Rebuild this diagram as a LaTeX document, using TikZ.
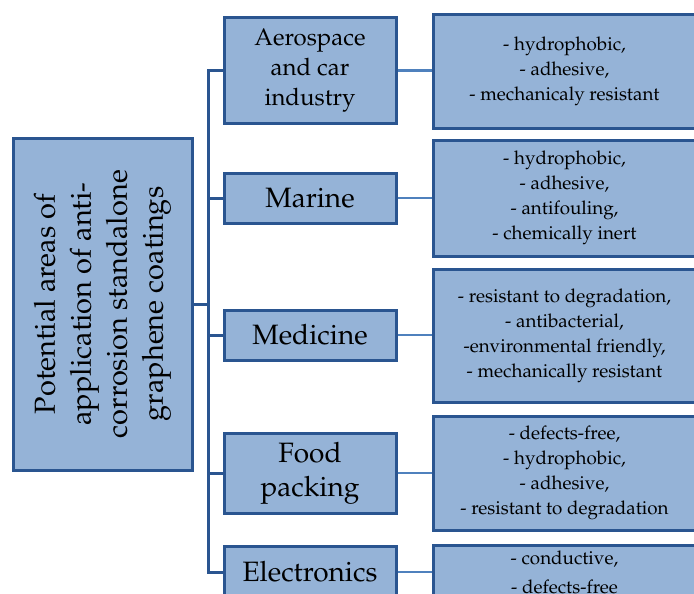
\documentclass[tikz,border=0pt]{standalone}
\usepackage[T1]{fontenc}
\usepackage{mathpazo}
\usetikzlibrary{positioning}

\definecolor{boxfill}{HTML}{95B3D7}
\definecolor{boxline}{HTML}{2A5590}
\definecolor{linkline}{HTML}{4F81BD}

\begin{document}
\begin{tikzpicture}
[x=1pt,y=-1pt,
box/.style = {draw=boxline, fill=boxfill, line width=3pt, align=center, inner sep=2pt},
area/.style = {box, minimum width=172pt, font=\fontsize{28}{34}\selectfont},
prop/.style = {box, minimum width=262pt, anchor=west, font=\fontsize{18.8}{25}\selectfont},
trunk/.style = {draw=boxline, line width=3pt},
link/.style = {draw=linkline, line width=2.4pt},]
\useasboundingbox (0,0) rectangle (694,594);
\clip (0,0) rectangle (694,594);
\node (main) at (102.5,304)[box,rotate=90,minimum width=332pt,minimum height=179pt,font=\fontsize{29}{36}\selectfont] {Potential areas of\\ application of anti-\\ corrosion standalone\\ graphene coatings};
\node (aero) at (310,70.5)[area,minimum height=105pt,font=\fontsize{24}{30}\selectfont] {Aerospace\\ and car\\ industry};
\node (marine) at (310,198)[area,minimum height=50pt] {Marine};
\node (med) at (310,335)[area,minimum height=50pt] {Medicine};
\node (food) at (310,473)[area,minimum height=80pt] {Food\\ packing};
\node (elec) at (310,572)[area,minimum height=52pt] {Electronics};
\node (aeroP) at (432,71.5)[prop,minimum height=113pt] {- hydrophobic,\\ - adhesive,\\ - mechanicaly resistant};
\node (marineP) at (432,198)[prop,minimum height=116pt] {- hydrophobic,\\ - adhesive,\\ - antifouling,\\ - chemically inert};
\node (medP) at (432,336)[prop,minimum height=133pt] {- resistant to degradation,\\ - antibacterial,\\ -environmental friendly,\\ - mechanically resistant};
\node (foodP) at (432,473)[prop,minimum height=114pt] {- defects-free,\\ - hydrophobic,\\ - adhesive,\\ - resistant to degradation};
\node (elecP) at (432,598)[prop,minimum height=106pt,text depth=51pt] {- conductive,\\[4pt] - defects-free};
\coordinate (top) at (208,70.5);
\coordinate (bottom) at (208,572);
\draw[trunk] (aero.west) -- (top) -- (bottom) -- (elec.west);
\draw[trunk] (main.south) -- (main.south -| top);
\draw[trunk] (marine.west) -- (marine.west -| top);
\draw[trunk] (med.west) -- (med.west -| top);
\draw[trunk] (food.west) -- (food.west -| top);
\draw[link] (aero.east) -- (aero.east -| aeroP.west);
\draw[link] (marine.east) -- (marineP.west);
\draw[link] (med.east) -- (med.east -| medP.west);
\draw[link] (food.east) -- (foodP.west);
\draw[link] (elec.east) -- (elec.east -| elecP.west);
\end{tikzpicture}
\end{document}
